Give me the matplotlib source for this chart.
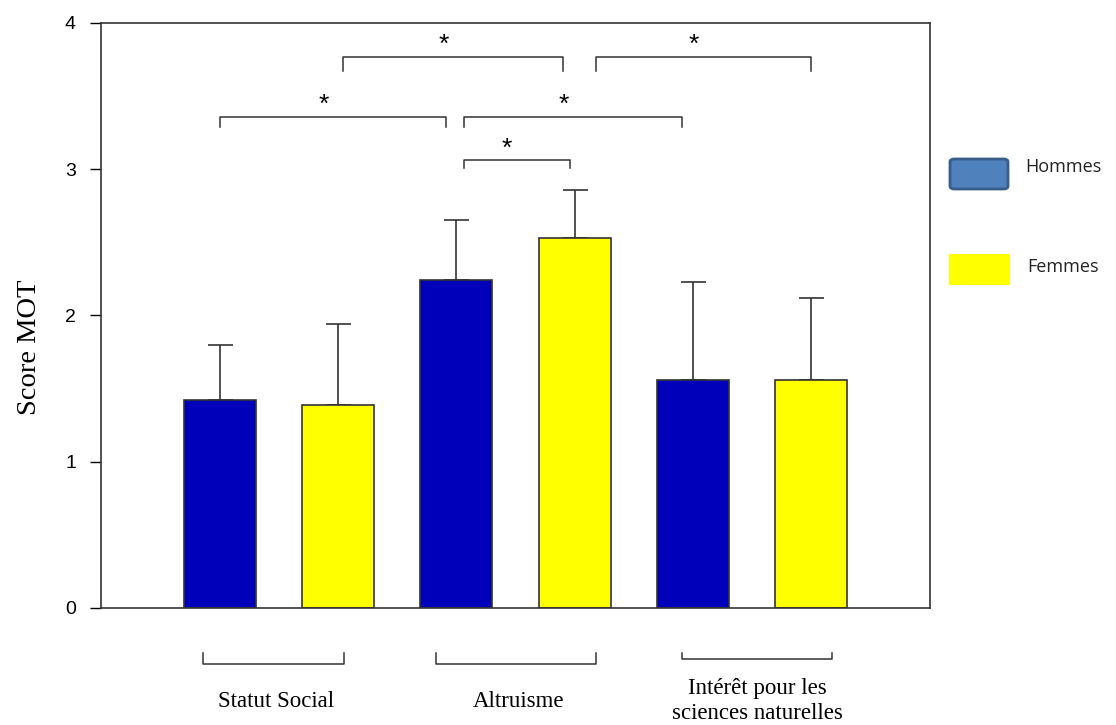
import numpy as np
import matplotlib.pyplot as plt
from matplotlib.patches import FancyBboxPatch, Rectangle

groupes = ["Statut Social", "Altruisme", "Intérêt pour les\nsciences naturelles"]
hommes = [1.42, 2.24, 1.56]
femmes = [1.39, 2.53, 1.56]
hommes_err = [0.38, 0.41, 0.67]
femmes_err = [0.55, 0.33, 0.56]
yticks = [0, 1, 2, 3, 4]

# significance brackets: (x gauche, x droite, hauteur, longueur des pattes)
brackets = [(1.04, 2.90, 3.77, 0.10), (3.18, 5.00, 3.77, 0.10),
            (0.00, 1.91, 3.36, 0.07), (2.06, 3.91, 3.36, 0.07),
            (2.06, 2.96, 3.06, 0.05)]

blue = "#0000bb"
yellow = "#ffff00"
edge = "#333333"

fig = plt.figure(figsize=(11.16, 7.25), dpi=100)
ax = fig.add_axes([0.0905, 0.1614, 0.7428, 0.8069])

# bars interleaved: H, F, H, F, H, F
x = np.arange(6)
vals = []
errs = []
colors = []
for h, f, he, fe in zip(hommes, femmes, hommes_err, femmes_err):
    vals += [h, f]
    errs += [he, fe]
    colors += [blue, yellow]

ax.bar(x, vals, width=0.61, color=colors, edgecolor=edge, linewidth=1.2, zorder=2)
ax.errorbar(x, vals, yerr=[np.zeros(6), errs], fmt="none", ecolor=edge,
            elinewidth=1.2, capsize=9, capthick=1.2, zorder=1)

ax.set_xlim(-1.01, 6.01)
ax.set_ylim(0, 4)
ax.set_yticks(yticks)
ax.set_xticks([])
ax.tick_params(axis="y", direction="out", length=8, width=1, labelsize=14, pad=10)
for lab in ax.get_yticklabels():
    lab.set_family("Liberation Sans")
for s in ax.spines.values():
    s.set_linewidth(1.2)
    s.set_color(edge)

ax.set_ylabel("Score MOT", family="Liberation Serif", fontsize=20.5)
ax.yaxis.set_label_coords(-0.071, 0.446)

for x0, x1, y, leg in brackets:
    ax.plot([x0, x0, x1, x1], [y - leg, y, y, y - leg], color=edge, lw=1.1)
    ax.text((x0 + x1) / 2 - 0.08, y + 0.0, "*", ha="center", va="bottom",
            fontsize=19, family="Liberation Sans")

# group brackets under the axis
tr = ax.get_xaxis_transform()
group_spans = [(-0.15, 1.05, -0.096), (1.83, 3.18, -0.096), (3.91, 5.18, -0.088)]
for (x0, x1, yb), name in zip(group_spans, groupes):
    ax.plot([x0, x0, x1, x1], [-0.077, yb, yb, -0.077], color=edge,
            lw=1.1, transform=tr, clip_on=False)
    ax.text((x0 + x1) / 2 + (0.0 if "\n" in name else 0.02), -0.159, name,
            transform=tr, ha="center", va="center", family="Liberation Serif",
            fontsize=16.5, linespacing=1.2)

# legend drawn as Office-like shapes
fig.patches.append(FancyBboxPatch((950 / 1116, 1 - 189 / 725), 58 / 1116, 30 / 725,
                                  boxstyle="round,pad=0,rounding_size=0.004",
                                  transform=fig.transFigure, facecolor="#4f81bd",
                                  edgecolor="#385d8a", linewidth=2))
fig.patches.append(Rectangle((949 / 1116, 1 - 285 / 725), 61 / 1116, 31 / 725,
                             transform=fig.transFigure, facecolor=yellow,
                             edgecolor="none"))
fig.text(1025 / 1116, 1 - 167 / 725, "Hommes", family="Open Sans", fontsize=13,
         va="center", ha="left", color="#222222")
fig.text(1027 / 1116, 1 - 267 / 725, "Femmes", family="Open Sans", fontsize=13,
         va="center", ha="left", color="#222222")

fig.savefig("out.png", dpi=100)
